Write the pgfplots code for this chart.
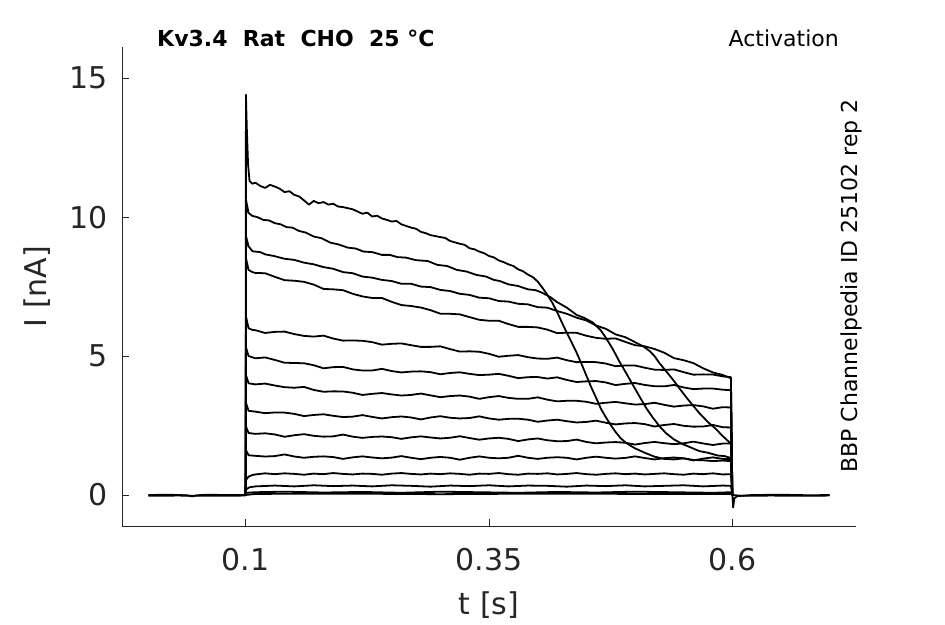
\documentclass[border=0pt]{standalone}
\usepackage{fontspec}
\setmainfont{DejaVu Sans}
\usepackage{pgfplots}
\pgfplotsset{compat=1.18}
\definecolor{axgray}{RGB}{38,38,38}
\tikzset{tr/.style={black, line width=1.8pt, line join=round, mark=none}}
\begin{document}
\begin{tikzpicture}
\useasboundingbox (0pt,0pt) rectangle (945pt,624pt);
\begin{axis}[
  at={(122pt,98pt)}, anchor=south west,
  scale only axis, width=734pt, height=479pt,
  xmin=-0.027, xmax=0.727, ymin=-1.115, ymax=16.12,
  axis x line=bottom, axis y line=left,
  every outer x axis line/.append style={-},
  every outer y axis line/.append style={-},
  axis line style={-, draw=axgray, line width=0.8pt},
  xtick={0.1,0.35,0.6}, ytick={0,5,10,15},
  tick align=inside, major tick length=7pt,
  tick style={draw=axgray, line width=0.8pt},
  /pgf/number format/assume math mode=true,
  ticklabel style={font=\fontsize{30}{36}\selectfont, text=axgray},
  xticklabel style={anchor=center, yshift=-34pt},
  yticklabel style={anchor=east, inner sep=0pt, xshift=-14pt},
  xlabel={t [s]}, ylabel={I [nA]},
  label style={font=\fontsize{30}{36}\selectfont, text=axgray},
  xlabel style={at={(axis description cs:0.5,-0.165)}, anchor=center},
  ylabel style={at={(axis description cs:-0.1158,0.5)}, anchor=center, rotate=0},
]
% baseline before pulse
\addplot[tr] coordinates {(0,0) (0.02,0.01) (0.04,-0.01) (0.045,-0.05) (0.05,-0.01) (0.06,0.01) (0.08,0) (0.1,0)};
\addplot[tr] coordinates {(0,-0.03) (0.03,-0.02) (0.06,-0.03) (0.1,-0.02)};
% tail after pulse
\addplot[tr] coordinates {(0.6,0) (0.6008,-0.45) (0.602,-0.12) (0.605,-0.04) (0.62,0) (0.65,0.01) (0.68,-0.01) (0.7,0)};
\addplot[tr] coordinates {(0.6,0) (0.61,-0.03) (0.64,-0.02) (0.67,-0.03) (0.7,-0.02)};
% A
\addplot[tr] coordinates {(0.1,0) (0.1003,14.4) (0.1012,13.2) (0.1025,11.9) (0.104,11.3) (0.107,11.2) (0.11,11.24) (0.115,11.12) (0.12,11.05) (0.125,11.16) (0.13,11.1) (0.135,11.02) (0.14,10.9) (0.145,10.93) (0.15,10.8) (0.155,10.74) (0.16,10.6) (0.165,10.45) (0.17,10.58) (0.175,10.5) (0.18,10.54) (0.185,10.45) (0.19,10.48) (0.195,10.38) (0.2,10.36) (0.21,10.28) (0.215,10.2) (0.22,10.12) (0.225,10.16) (0.23,10.02) (0.235,10.05) (0.24,9.95) (0.245,9.9) (0.25,9.84) (0.255,9.86) (0.26,9.74) (0.27,9.62) (0.275,9.58) (0.28,9.47) (0.285,9.42) (0.29,9.35) (0.3,9.28) (0.305,9.25) (0.31,9.14) (0.32,9.04) (0.325,9.0) (0.33,8.88) (0.335,8.84) (0.34,8.76) (0.345,8.7) (0.35,8.6) (0.355,8.55) (0.36,8.44) (0.365,8.38) (0.37,8.3) (0.375,8.24) (0.38,8.12) (0.385,8.05) (0.39,7.93) (0.395,7.84) (0.4,7.68) (0.405,7.45) (0.41,7.2) (0.415,6.92) (0.42,6.58) (0.425,6.2) (0.43,5.83) (0.435,5.48) (0.44,5.12) (0.445,4.72) (0.45,4.3) (0.455,3.88) (0.46,3.5) (0.465,3.1) (0.47,2.8) (0.475,2.52) (0.48,2.27) (0.485,2.05) (0.49,1.9) (0.495,1.78) (0.5,1.68) (0.505,1.6) (0.51,1.52) (0.515,1.45) (0.52,1.38) (0.525,1.34) (0.53,1.3) (0.54,1.28) (0.55,1.32) (0.56,1.26) (0.57,1.25) (0.58,1.22) (0.59,1.24) (0.5985,1.22) (0.6,0)};
% B
\addplot[tr] coordinates {(0.1,0) (0.1005,10.6) (0.103,10.15) (0.107,10.04) (0.112,10.0) (0.118,9.9) (0.124,9.88) (0.13,9.78) (0.136,9.74) (0.142,9.64) (0.148,9.62) (0.155,9.5) (0.162,9.44) (0.17,9.3) (0.178,9.24) (0.187,9.08) (0.195,9.02) (0.205,8.9) (0.213,8.87) (0.221,8.76) (0.23,8.74) (0.24,8.64) (0.248,8.64) (0.256,8.56) (0.265,8.54) (0.275,8.45) (0.287,8.42) (0.297,8.28) (0.307,8.24) (0.317,8.1) (0.327,8.04) (0.337,7.92) (0.347,7.86) (0.355,7.74) (0.361,7.7) (0.37,7.58) (0.38,7.52) (0.39,7.4) (0.398,7.37) (0.405,7.27) (0.413,7.12) (0.42,6.94) (0.43,6.74) (0.44,6.48) (0.448,6.37) (0.457,6.2) (0.465,5.92) (0.47,5.66) (0.477,5.26) (0.484,4.8) (0.491,4.38) (0.498,3.95) (0.505,3.52) (0.512,3.1) (0.518,2.8) (0.525,2.48) (0.532,2.22) (0.54,2.0) (0.549,1.83) (0.558,1.7) (0.566,1.58) (0.575,1.52) (0.585,1.42) (0.592,1.4) (0.5985,1.33) (0.6,0)};
% C
\addplot[tr] coordinates {(0.1,0) (0.1005,9.3) (0.103,8.95) (0.107,8.77) (0.115,8.74) (0.12,8.66) (0.129,8.6) (0.14,8.5) (0.15,8.46) (0.16,8.36) (0.17,8.3) (0.18,8.2) (0.19,8.14) (0.2,8.02) (0.21,7.98) (0.22,7.86) (0.23,7.82) (0.24,7.74) (0.25,7.7) (0.26,7.6) (0.27,7.6) (0.28,7.5) (0.29,7.48) (0.3,7.38) (0.31,7.34) (0.32,7.24) (0.33,7.2) (0.34,7.1) (0.35,7.08) (0.36,6.98) (0.37,6.96) (0.38,6.88) (0.39,6.86) (0.4,6.76) (0.41,6.74) (0.42,6.62) (0.43,6.52) (0.44,6.38) (0.45,6.28) (0.46,6.1) (0.47,5.98) (0.48,5.78) (0.49,5.68) (0.5,5.5) (0.508,5.36) (0.515,5.18) (0.52,5.0) (0.525,4.75) (0.532,4.45) (0.539,4.15) (0.546,3.82) (0.553,3.5) (0.56,3.2) (0.566,2.95) (0.575,2.62) (0.583,2.38) (0.59,2.12) (0.5985,1.85) (0.6,0)};
% D
\addplot[tr] coordinates {(0.1,0) (0.1005,8.5) (0.103,8.1) (0.107,8.02) (0.11,7.99) (0.12,7.98) (0.13,7.85) (0.14,7.73) (0.15,7.71) (0.16,7.67) (0.17,7.57) (0.18,7.415) (0.19,7.40) (0.2,7.37) (0.21,7.24) (0.22,7.145) (0.23,7.09) (0.24,7.09) (0.25,6.95) (0.26,6.835) (0.27,6.80) (0.28,6.745) (0.29,6.65) (0.3,6.525) (0.31,6.52) (0.32,6.5) (0.33,6.40) (0.34,6.305) (0.35,6.27) (0.36,6.27) (0.37,6.15) (0.38,6.05) (0.39,6.05) (0.4,6.03) (0.41,5.95) (0.42,5.825) (0.43,5.84) (0.44,5.835) (0.45,5.73) (0.46,5.655) (0.47,5.62) (0.48,5.635) (0.49,5.51) (0.5,5.39) (0.51,5.35) (0.52,5.255) (0.53,5.12) (0.54,4.925) (0.55,4.85) (0.56,4.745) (0.57,4.56) (0.58,4.41) (0.59,4.32) (0.5985,4.2) (0.6,0)};
% E
\addplot[tr] coordinates {(0.1,0) (0.1005,6.4) (0.103,6.0) (0.107,5.94) (0.11,5.93) (0.12,5.83) (0.13,5.87) (0.14,5.88) (0.15,5.79) (0.16,5.725) (0.17,5.70) (0.18,5.735) (0.19,5.63) (0.2,5.555) (0.21,5.56) (0.22,5.55) (0.23,5.50) (0.24,5.41) (0.25,5.44) (0.26,5.455) (0.27,5.39) (0.28,5.33) (0.29,5.33) (0.3,5.35) (0.31,5.25) (0.32,5.16) (0.33,5.17) (0.34,5.155) (0.35,5.08) (0.36,4.975) (0.37,5.01) (0.38,5.035) (0.39,4.96) (0.4,4.91) (0.41,4.90) (0.42,4.945) (0.43,4.85) (0.44,4.78) (0.45,4.79) (0.46,4.78) (0.47,4.73) (0.48,4.635) (0.49,4.66) (0.5,4.66) (0.51,4.58) (0.52,4.51) (0.53,4.50) (0.54,4.52) (0.55,4.42) (0.56,4.33) (0.57,4.34) (0.58,4.335) (0.59,4.27) (0.5985,4.24) (0.6,0)};
% F
\addplot[tr] coordinates {(0.1,0) (0.1005,5.3) (0.103,5.0) (0.11,4.92) (0.12,4.95) (0.13,4.86) (0.14,4.76) (0.15,4.75) (0.16,4.74) (0.17,4.67) (0.18,4.56) (0.19,4.6) (0.2,4.61) (0.21,4.52) (0.22,4.48) (0.23,4.48) (0.24,4.54) (0.25,4.46) (0.26,4.41) (0.27,4.44) (0.28,4.45) (0.29,4.42) (0.3,4.345) (0.31,4.39) (0.32,4.415) (0.33,4.36) (0.34,4.315) (0.35,4.33) (0.36,4.36) (0.37,4.29) (0.38,4.205) (0.39,4.24) (0.4,4.245) (0.41,4.19) (0.42,4.235) (0.43,4.14) (0.44,4.065) (0.45,4.09) (0.46,4.10) (0.47,4.05) (0.48,3.955) (0.49,4.0) (0.5,4.03) (0.51,3.96) (0.52,3.915) (0.53,3.91) (0.54,3.96) (0.55,3.87) (0.56,3.81) (0.57,3.83) (0.58,3.83) (0.59,3.79) (0.5985,3.77) (0.6,0)};
% G
\addplot[tr] coordinates {(0.1,0) (0.1005,4.3) (0.103,4.02) (0.11,3.98) (0.12,4.01) (0.13,3.94) (0.14,3.88) (0.15,3.86) (0.16,3.89) (0.17,3.78) (0.18,3.715) (0.19,3.73) (0.2,3.725) (0.21,3.68) (0.22,3.60) (0.23,3.64) (0.24,3.67) (0.25,3.62) (0.26,3.58) (0.27,3.60) (0.28,3.65) (0.29,3.585) (0.3,3.52) (0.31,3.56) (0.32,3.58) (0.33,3.54) (0.34,3.46) (0.35,3.52) (0.36,3.56) (0.37,3.495) (0.38,3.46) (0.39,3.46) (0.4,3.515) (0.41,3.43) (0.42,3.37) (0.43,3.39) (0.44,3.39) (0.45,3.355) (0.46,3.28) (0.47,3.32) (0.48,3.35) (0.49,3.30) (0.5,3.255) (0.51,3.27) (0.52,3.32) (0.53,3.245) (0.54,3.18) (0.55,3.22) (0.56,3.235) (0.57,3.19) (0.58,3.105) (0.59,3.16) (0.5985,3.15) (0.6,0)};
% H
\addplot[tr] coordinates {(0.1,0) (0.1005,3.3) (0.103,3.03) (0.11,3.0) (0.12,2.945) (0.13,2.97) (0.14,2.965) (0.15,2.92) (0.16,2.84) (0.17,2.88) (0.18,2.905) (0.19,2.85) (0.2,2.805) (0.21,2.82) (0.22,2.875) (0.23,2.81) (0.24,2.755) (0.25,2.80) (0.26,2.825) (0.27,2.79) (0.28,2.72) (0.29,2.79) (0.3,2.835) (0.31,2.78) (0.32,2.755) (0.33,2.77) (0.34,2.83) (0.35,2.755) (0.36,2.71) (0.37,2.74) (0.38,2.745) (0.39,2.71) (0.4,2.635) (0.41,2.68) (0.42,2.71) (0.43,2.655) (0.44,2.61) (0.45,2.63) (0.46,2.675) (0.47,2.60) (0.48,2.54) (0.49,2.575) (0.5,2.59) (0.51,2.55) (0.52,2.465) (0.53,2.52) (0.54,2.555) (0.55,2.49) (0.56,2.46) (0.57,2.465) (0.58,2.52) (0.59,2.44) (0.5985,2.43) (0.6,0)};
% I
\addplot[tr] coordinates {(0.1,0) (0.1005,2.45) (0.103,2.23) (0.11,2.2) (0.12,2.22) (0.13,2.18) (0.14,2.095) (0.15,2.15) (0.16,2.19) (0.17,2.13) (0.18,2.10) (0.19,2.11) (0.2,2.175) (0.21,2.10) (0.22,2.055) (0.23,2.09) (0.24,2.105) (0.25,2.08) (0.26,2.02) (0.27,2.075) (0.28,2.11) (0.29,2.07) (0.3,2.035) (0.31,2.06) (0.32,2.115) (0.33,2.05) (0.34,1.99) (0.35,2.035) (0.36,2.06) (0.37,2.02) (0.38,1.94) (0.39,2.0) (0.4,2.035) (0.41,1.97) (0.42,1.935) (0.43,1.94) (0.44,1.995) (0.45,1.91) (0.46,1.86) (0.47,1.89) (0.48,1.905) (0.49,1.88) (0.5,1.815) (0.51,1.87) (0.52,1.91) (0.53,1.865) (0.54,1.83) (0.55,1.86) (0.56,1.92) (0.57,1.855) (0.58,1.80) (0.59,1.85) (0.5985,1.85) (0.6,0)};
% J
\addplot[tr] coordinates {(0.1,0) (0.1005,1.6) (0.103,1.43) (0.11,1.41) (0.12,1.385) (0.13,1.40) (0.14,1.46) (0.15,1.385) (0.16,1.34) (0.17,1.375) (0.18,1.39) (0.19,1.365) (0.2,1.30) (0.21,1.355) (0.22,1.39) (0.23,1.35) (0.24,1.32) (0.25,1.345) (0.26,1.40) (0.27,1.34) (0.28,1.29) (0.29,1.34) (0.3,1.37) (0.31,1.34) (0.32,1.27) (0.33,1.34) (0.34,1.39) (0.35,1.34) (0.36,1.32) (0.37,1.34) (0.38,1.41) (0.39,1.34) (0.4,1.30) (0.41,1.34) (0.42,1.36) (0.43,1.34) (0.44,1.28) (0.45,1.34) (0.46,1.38) (0.47,1.34) (0.48,1.31) (0.49,1.335) (0.5,1.39) (0.51,1.33) (0.52,1.28) (0.53,1.325) (0.54,1.35) (0.55,1.32) (0.56,1.245) (0.57,1.31) (0.58,1.355) (0.59,1.30) (0.5985,1.30) (0.6,0)};
% K
\addplot[tr] coordinates {(0.1,0) (0.1005,0.55) (0.103,0.66) (0.107,0.72) (0.11,0.74) (0.12,0.78) (0.13,0.75) (0.14,0.78) (0.15,0.76) (0.16,0.73) (0.17,0.77) (0.18,0.75) (0.19,0.79) (0.2,0.76) (0.21,0.74) (0.22,0.77) (0.23,0.76) (0.24,0.73) (0.25,0.77) (0.26,0.79) (0.27,0.76) (0.28,0.74) (0.29,0.77) (0.3,0.75) (0.31,0.78) (0.32,0.76) (0.33,0.73) (0.34,0.77) (0.35,0.76) (0.36,0.79) (0.37,0.75) (0.38,0.73) (0.39,0.77) (0.4,0.76) (0.41,0.78) (0.42,0.74) (0.43,0.76) (0.44,0.79) (0.45,0.75) (0.46,0.73) (0.47,0.76) (0.48,0.78) (0.49,0.75) (0.5,0.77) (0.51,0.74) (0.52,0.76) (0.53,0.78) (0.54,0.75) (0.55,0.73) (0.56,0.77) (0.57,0.75) (0.58,0.78) (0.59,0.74) (0.5985,0.75) (0.6,0)};
% L
\addplot[tr] coordinates {(0.1,0) (0.1005,0.2) (0.104,0.28) (0.11,0.31) (0.13,0.34) (0.15,0.31) (0.17,0.35) (0.19,0.32) (0.21,0.34) (0.23,0.31) (0.25,0.35) (0.27,0.33) (0.29,0.30) (0.31,0.34) (0.33,0.32) (0.35,0.35) (0.37,0.31) (0.39,0.34) (0.41,0.33) (0.43,0.30) (0.45,0.34) (0.47,0.32) (0.49,0.35) (0.51,0.31) (0.53,0.33) (0.55,0.35) (0.57,0.31) (0.59,0.34) (0.5985,0.33) (0.6,0)};
% M
\addplot[tr] coordinates {(0.1,0) (0.1005,0.08) (0.11,0.1) (0.14,0.12) (0.18,0.09) (0.22,0.11) (0.26,0.08) (0.3,0.12) (0.34,0.1) (0.38,0.08) (0.42,0.11) (0.46,0.09) (0.5,0.12) (0.54,0.1) (0.58,0.08) (0.5985,0.1) (0.6,0)};
% N
\addplot[tr] coordinates {(0.1,0) (0.11,0.04) (0.2,0.05) (0.3,0.03) (0.4,0.05) (0.5,0.04) (0.5985,0.04) (0.6,0)};
\end{axis}
\node[anchor=base west, inner sep=0pt, font=\bfseries\fontsize{22}{26}\selectfont] at (157pt,577pt) {Kv3.4\ \ Rat\ \ CHO\ \ 25 °C};
\node[anchor=base east, inner sep=0pt, font=\fontsize{22}{26}\selectfont] at (839pt,577pt) {Activation};
\node[anchor=base, inner sep=0pt, rotate=90, font=\fontsize{22}{26}\selectfont] at (857pt,338pt) {BBP Channelpedia ID 25102 rep 2};
\end{tikzpicture}
\end{document}
